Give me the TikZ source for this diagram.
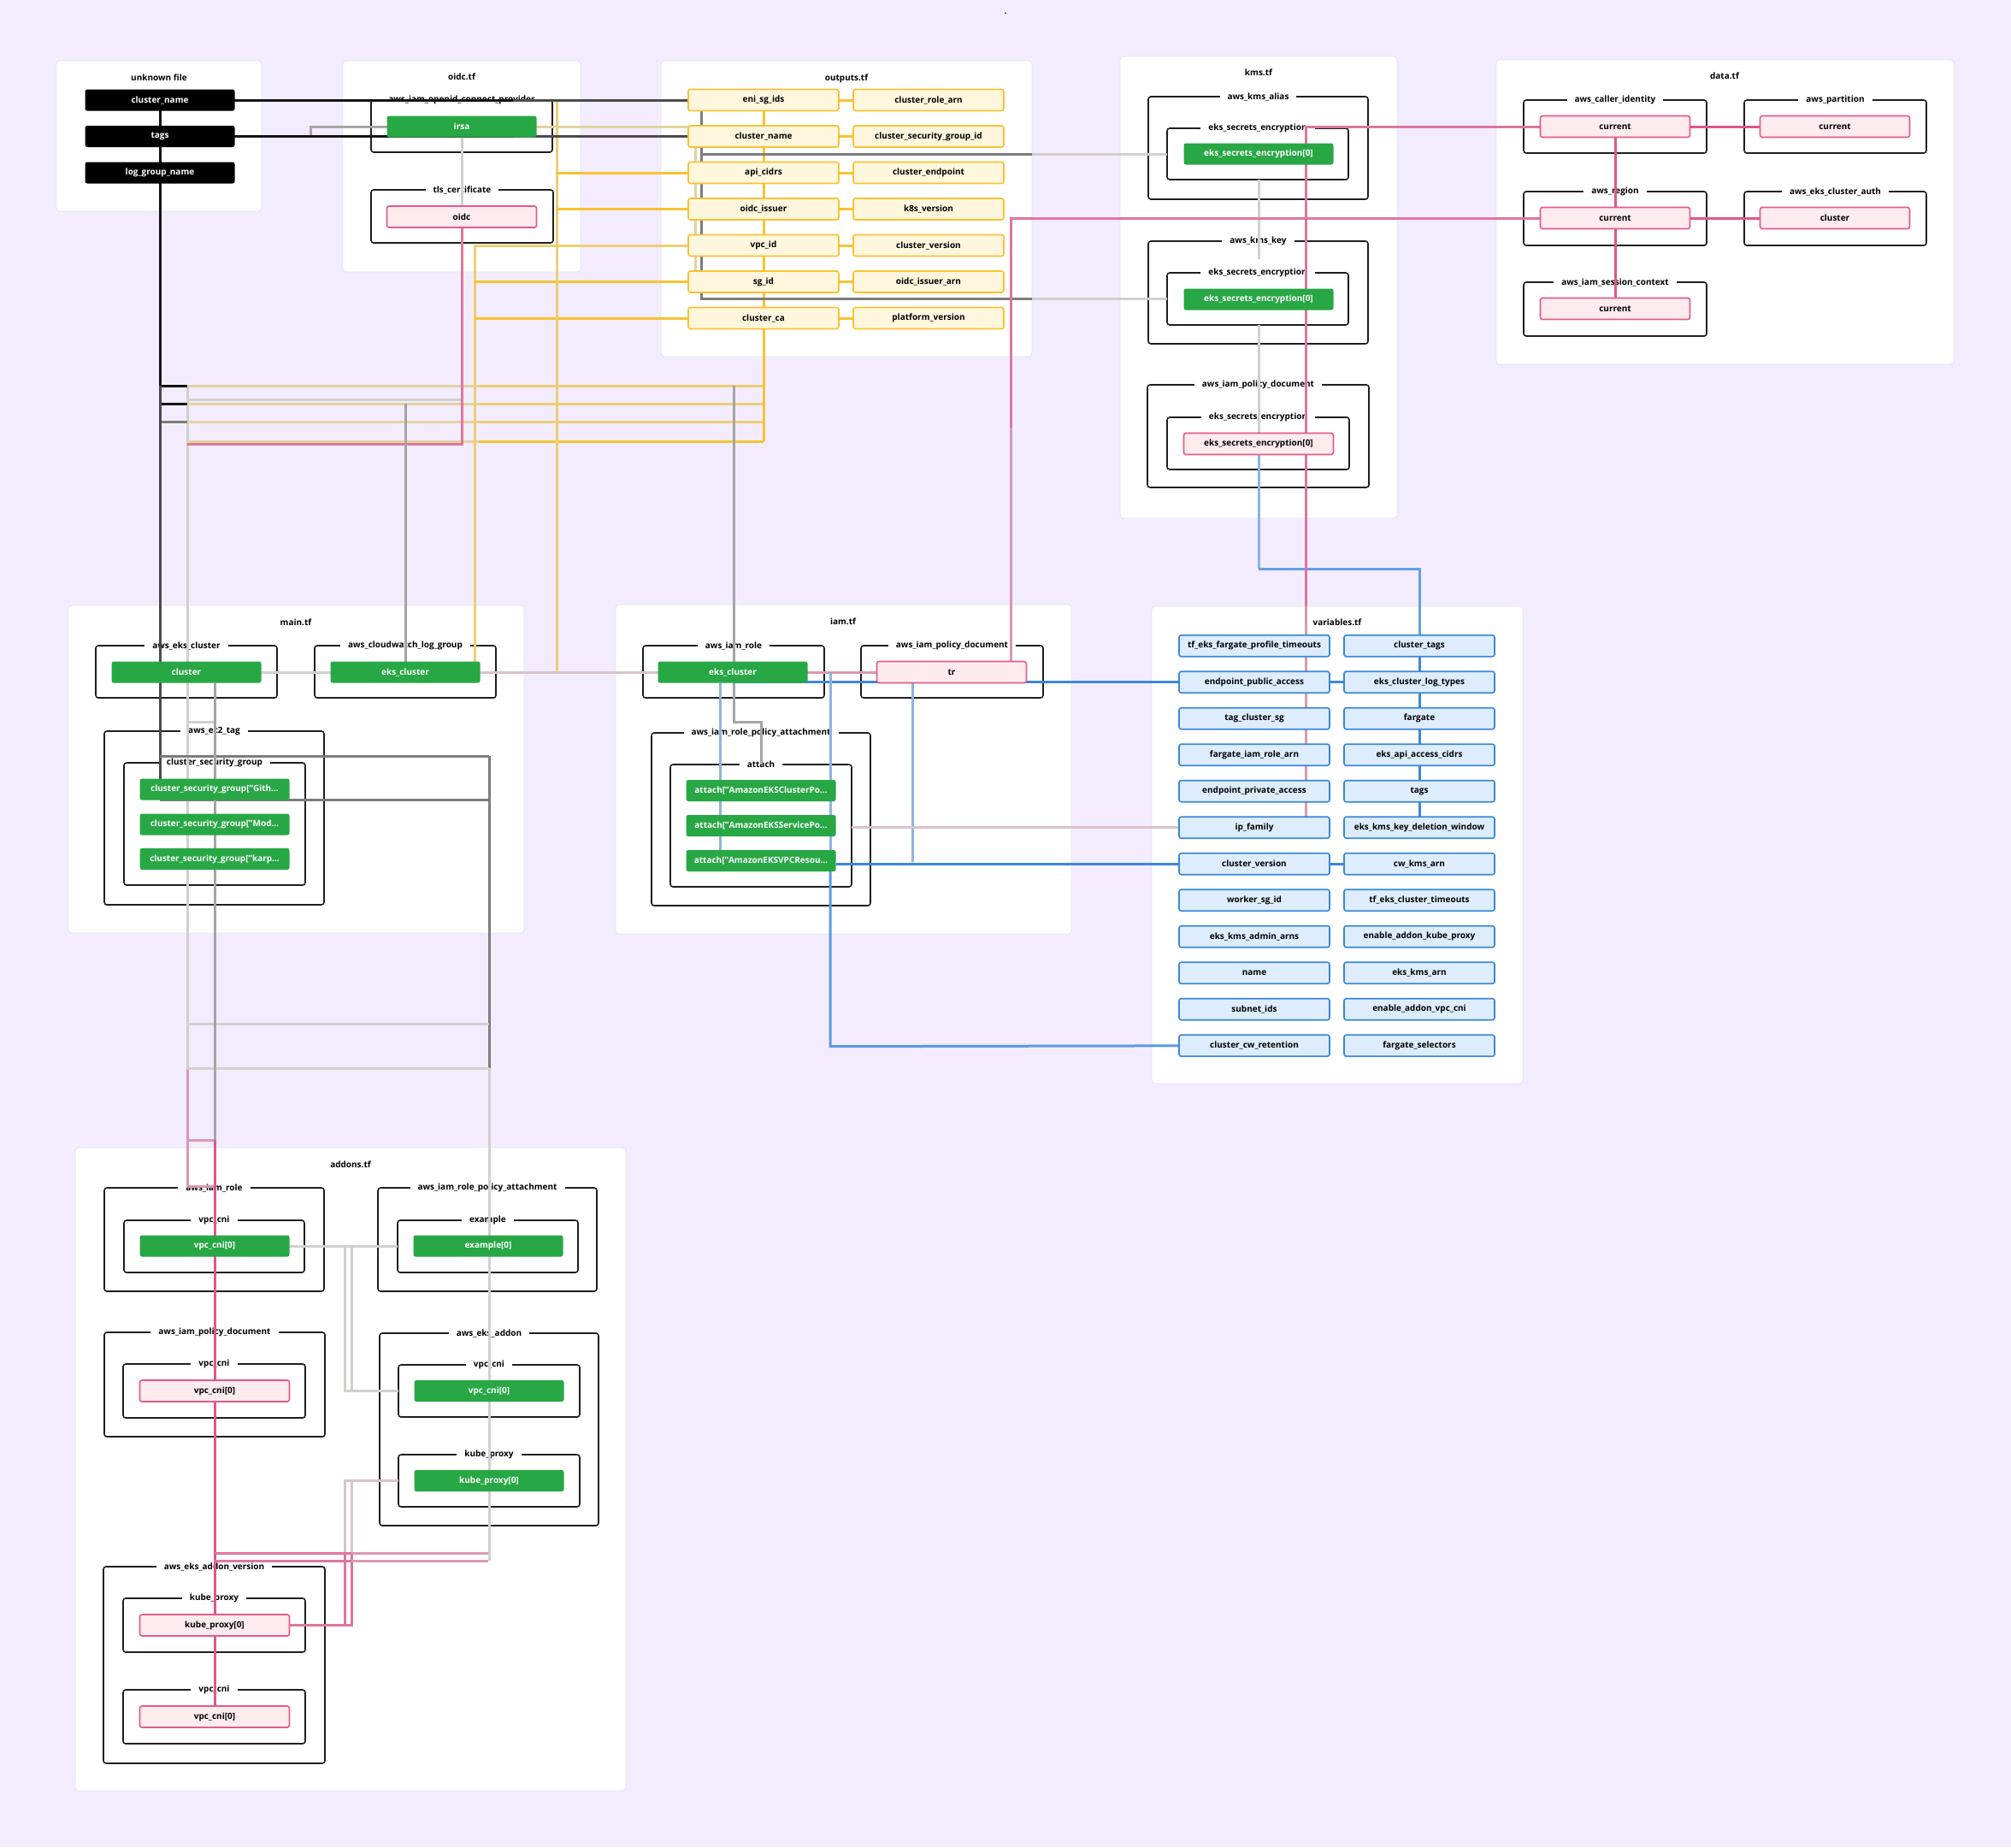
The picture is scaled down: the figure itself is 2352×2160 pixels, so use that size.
\documentclass[tikz,border=0pt]{standalone}
\usepackage{fontspec}
\setmainfont{Open Sans}
\definecolor{bg}{RGB}{242,236,254}
\definecolor{panelln}{RGB}{230,226,240}
\definecolor{grpln}{RGB}{30,30,30}
\definecolor{gfill}{RGB}{40,167,69}
\definecolor{pfill}{RGB}{253,235,237}
\definecolor{pline}{RGB}{226,90,140}
\definecolor{yfill}{RGB}{255,246,222}
\definecolor{yline}{RGB}{248,194,48}
\definecolor{bfill}{RGB}{222,237,253}
\definecolor{bline}{RGB}{58,135,216}
\definecolor{cBk}{RGB}{20,20,20}
\definecolor{cDk}{RGB}{75,75,75}
\definecolor{cMg}{RGB}{125,125,125}
\definecolor{cGy}{RGB}{165,165,165}
\definecolor{cLg}{RGB}{210,208,205}
\definecolor{cBe}{RGB}{226,210,160}
\definecolor{cYe}{RGB}{246,195,50}
\definecolor{cYl}{RGB}{238,206,115}
\definecolor{cPk}{RGB}{221,88,138}
\definecolor{cPm}{RGB}{222,118,158}
\definecolor{cPl}{RGB}{218,152,178}
\definecolor{cPg}{RGB}{216,196,204}
\definecolor{cBl}{RGB}{61,135,217}
\definecolor{cBll}{RGB}{140,180,224}
\newcommand\myfs{\fontsize{10}{12}\selectfont\bfseries}
\newcommand\mygrp[6]{\draw[grpbox] (#2,#3) rectangle (#4,#5);
  \node[glab] (#1) at ({(#2+#4)/2},#3) {#6};}
\begin{document}
\begin{tikzpicture}[x=1pt,y=-1pt,
  nd/.style={rounded corners=2.5pt, minimum width=175pt, minimum height=25pt, inner sep=0pt, font=\myfs, line width=1.6pt},
  blk/.style={nd, fill=black, text=white},
  grn/.style={nd, fill=gfill, text=white},
  pnk/.style={nd, fill=pfill, draw=pline, text=black},
  yel/.style={nd, fill=yfill, draw=yline, text=black},
  blu/.style={nd, fill=bfill, draw=bline, text=black},
  panel/.style={fill=white, draw=panelln, line width=0.8pt, rounded corners=4pt},
  grpbox/.style={draw=grpln, line width=1.6pt, rounded corners=3pt},
  glab/.style={fill=white, inner xsep=9pt, inner ysep=1pt, font=\myfs, text=black},
  ttl/.style={font=\myfs, text=black, inner sep=1pt},
  w/.style={line width=3pt}]
\useasboundingbox (0,0) rectangle (2352,2160);
\fill[bg] (0,0) rectangle (2352,2160);
\node[font=\myfs] (dot) at (1176,16) {.};

% ---------- panels ----------
\draw[panel] (66,71) rectangle (306,247);   \node[ttl] (tunk) at (186,91) {unknown file};
\draw[panel] (401,71) rectangle (679,318);  \node[ttl] (toidc) at (540,90) {oidc.tf};
\draw[panel] (773,71) rectangle (1207,417); \node[ttl] (tout) at (990,92) {outputs.tf};
\draw[panel] (1310,66) rectangle (1634,606); \node[ttl] (tkms) at (1472,85) {kms.tf};
\draw[panel] (1750,70) rectangle (2285,426); \node[ttl] (tdata) at (2017,89) {data.tf};
\draw[panel] (80,708) rectangle (613,1091); \node[ttl] (tmain) at (346,728) {main.tf};
\draw[panel] (720,707) rectangle (1253,1092); \node[ttl] (tiam) at (986,727) {iam.tf};
\draw[panel] (1347,709) rectangle (1781,1267); \node[ttl] (tvar) at (1564,728) {variables.tf};
\draw[panel] (88,1342) rectangle (732,2094); \node[ttl] (tadd) at (410,1362) {addons.tf};

% ---------- groups ----------
\mygrp{g1}{434}{117}{646}{178}{aws\_iam\_openid\_connect\_provider}
\mygrp{g2}{434}{222}{647}{284}{tls\_certificate}
\mygrp{g3}{1343}{113}{1600}{233}{aws\_kms\_alias}
\mygrp{g4}{1365}{150}{1577}{210}{eks\_secrets\_encryption}
\mygrp{g5}{1343}{282}{1600}{402}{aws\_kms\_key}
\mygrp{g6}{1365}{319}{1577}{380}{eks\_secrets\_encryption}
\mygrp{g7}{1342}{450}{1601}{570}{aws\_iam\_policy\_document}
\mygrp{g8}{1365}{488}{1578}{549}{eks\_secrets\_encryption}
\mygrp{g9}{1782}{117}{1996}{179}{aws\_caller\_identity}
\mygrp{g10}{2040}{117}{2253}{179}{aws\_partition}
\mygrp{g11}{1782}{224}{1996}{287}{aws\_region}
\mygrp{g12}{2040}{224}{2253}{287}{aws\_eks\_cluster\_auth}
\mygrp{g13}{1782}{330}{1996}{393}{aws\_iam\_session\_context}
\mygrp{g14}{112}{755}{324}{816}{aws\_eks\_cluster}
\mygrp{g15}{368}{755}{580}{816}{aws\_cloudwatch\_log\_group}
\mygrp{g16}{122}{855}{379}{1058}{aws\_ec2\_tag}
\mygrp{g17}{145}{892}{357}{1035}{cluster\_security\_group}
\mygrp{g18}{752}{755}{964}{816}{aws\_iam\_role}
\mygrp{g19}{1007}{755}{1220}{816}{aws\_iam\_policy\_document}
\mygrp{g20}{762}{857}{1018}{1059}{aws\_iam\_role\_policy\_attachment}
\mygrp{g21}{784}{894}{996}{1037}{attach}
\mygrp{g22}{122}{1389}{379}{1510}{aws\_iam\_role}
\mygrp{g23}{145}{1427}{356}{1488}{vpc\_cni}
\mygrp{g24}{442}{1389}{698}{1510}{aws\_iam\_role\_policy\_attachment}
\mygrp{g25}{465}{1427}{676}{1488}{example}
\mygrp{g26}{122}{1558}{380}{1680}{aws\_iam\_policy\_document}
\mygrp{g27}{144}{1595}{357}{1658}{vpc\_cni}
\mygrp{g28}{444}{1559}{700}{1784}{aws\_eks\_addon}
\mygrp{g29}{466}{1596}{678}{1657}{vpc\_cni}
\mygrp{g30}{466}{1701}{678}{1762}{kube\_proxy}
\mygrp{g31}{121}{1832}{380}{2062}{aws\_eks\_addon\_version}
\mygrp{g32}{144}{1869}{357}{1932}{kube\_proxy}
\mygrp{g33}{144}{1976}{357}{2039}{vpc\_cni}

% ---------- node coordinates (placed first as coordinates for wires) ----------
\coordinate (uf1) at (187,117); \coordinate (uf2) at (187,159.5); \coordinate (uf3) at (187,202);
\coordinate (irsa) at (540,148); \coordinate (oidc) at (540,253.5);
\foreach \i in {1,...,7}{\coordinate (o\i) at (893,{117+42.5*(\i-1)}); \coordinate (p\i) at (1086,{117+42.5*(\i-1)});}
\coordinate (k1) at (1472,180); \coordinate (k2) at (1472,350); \coordinate (k3) at (1472,519);
\coordinate (d1) at (1889,148); \coordinate (d2) at (2146,148); \coordinate (d3) at (1889,255);
\coordinate (d4) at (2146,255); \coordinate (d5) at (1889,361);
\coordinate (mc) at (218,786); \coordinate (mcw) at (474,786);
\coordinate (ie) at (857,786); \coordinate (tr) at (1113,786);
\foreach \i in {1,...,12}{\coordinate (v\i) at (1467,{755.2+42.5*(\i-1)}); \coordinate (r\i) at (1660,{755.2+42.5*(\i-1)});}

% ---------- wires ----------
% light gray trunk x=219
\draw[w,cLg] (219,451) -- (219,1250);
\draw[w,cPl] (219,1250) -- (219,1387) -- (251,1387);
\draw[w,cPl] (219,1333) -- (251,1333);
\draw[w,cLg] (219,844) -- (251,844);
\draw[w,cLg] (219,467) -- (540,467);
% horizontals into outputs trunk
\draw[w,cBe] (219,451) -- (560,451); \draw[w,cYl] (560,451) -- (893,451);
\draw[w,cBe] (219,472) -- (560,472); \draw[w,cYl] (560,472) -- (893,472);
\draw[w,cBe] (219,493) -- (560,493); \draw[w,cYl] (560,493) -- (893,493);
\draw[w,cBe] (219,516) -- (560,516); \draw[w,cYe] (560,516) -- (893,516);
\draw[w,cBk] (187,451) -- (219,451);
\draw[w,cBk] (187,472) -- (219,472);
\draw[w,cMg] (187,493) -- (219,493);
% oidc pink
\draw[w,cPm] (540,266) -- (540,519) -- (219,519);
% gray x=858 to attach
\draw[w,cGy] (858,451) -- (858,844) -- (890,844) -- (890,894);
% gray to cloudwatch
\draw[w,cGy] (474,472) -- (474,773.5);
% yellow x=555 and x=651
\draw[w,cYl] (805,287) -- (555,287) -- (555,773.5);
\draw[w,cYe] (805,329.5) -- (555,329.5);
\draw[w,cYe] (805,372) -- (555,372);
\draw[w,cYl] (651,117) -- (651,786);
\draw[w,cYe] (805,202) -- (651,202);
\draw[w,cYe] (805,244.5) -- (651,244.5);
% outputs internal
\foreach \i/\j in {1/2,2/3,3/4,4/5,5/6,6/7}{\draw[w,cYe] (o\i) -- (o\j);}
\foreach \i in {1,...,7}{\draw[w,cYe] (o\i) -- (p\i);}
\draw[w,cYe] (o7) -- (893,516);
% main row
\draw[w,cLg] (mc) -- (mcw);
\draw[w,cPg] (mcw) -- (ie);
\draw[w,cPl] (ie) -- (tr);
% unknown file wires
\draw[w,cGy] (uf2) -- (363,159.5) -- (363,148) -- (irsa);
\draw[w,cBe] (irsa) -- (813,148) -- (813,317);
\draw[w,cLg] (irsa) -- (oidc);
\draw[w,cBk] (uf1) -- (600,117); \draw[w,cDk] (600,117) -- (805,117);
\draw[w,cBk] (uf2) -- (600,159.5); \draw[w,cDk] (600,159.5) -- (805,159.5);
\draw[w,cBk] (uf1) -- (uf2) -- (uf3) -- (187,451);
\draw[w,cDk] (187,451) -- (187,935);
\draw[w,cMg] (187,884) -- (572,884);
\draw[w,cMg] (187,935) -- (572,935);
\draw[w,cMg] (572,884) -- (572,1249);
\draw[w,cLg] (572,1249) -- (572,1825);
\draw[w,cLg] (219,1197) -- (572,1197);
\draw[w,cLg] (219,1249) -- (572,1249);
% x=251 trunk
\draw[w,cGy] (251,798.5) -- (251,1333);
\draw[w,cPk] (251,1333) -- (251,1995);
% addons
\draw[w,cLg] (338,1457) -- (465,1457);
\draw[w,cLg] (403,1457) -- (403,1626) -- (466,1626);
\draw[w,cLg] (411,1457) -- (411,1626);
\draw[w,cPg] (466,1731) -- (403,1731) -- (403,1816);
\draw[w,cPg] (411,1731) -- (411,1816);
\draw[w,cPm] (403,1816) -- (403,1900);
\draw[w,cPm] (411,1816) -- (411,1900) -- (339,1900);
\draw[w,cPm] (251,1816) -- (411,1816); \draw[w,cPl] (411,1816) -- (571,1816);
\draw[w,cPm] (251,1825) -- (411,1825); \draw[w,cPl] (411,1825) -- (571,1825);
% outputs -> kms grays
\draw[w,cMg] (820,129.5) -- (820,349.5) -- (1207,349.5);
\draw[w,cMg] (820,180) -- (1207,180);
\draw[w,cLg] (1207,349.5) -- (1365,349.5);
\draw[w,cLg] (1207,180) -- (1365,180);
% kms
\draw[w,cLg] (1472,210) -- (1472,303);
\draw[w,cLg] (1472,380) -- (1472,506.5);
\draw[w,cBll] (1472,531.5) -- (1472,665);
\draw[w,cBl!80] (1472,665) -- (1660,665) -- (r1);
% pink from data
\draw[w,cPm] (d1) -- (1527,148) -- (1527,709);
\draw[w,cPl] (1527,709) -- (1527,955.2);
\draw[w,cPm] (d3) -- (1182,255) -- (1182,500);
\draw[w,cPl] (1182,500) -- (1182,773.5);
\draw[w,cPk] (d1) -- (d2); \draw[w,cPk] (d1) -- (d3);
\draw[w,cPk] (d3) -- (d4); \draw[w,cPk] (d3) -- (d5);
% blue
\foreach \i/\j in {1/2,2/3,3/4,4/5,5/6}{\draw[w,cBl] (r\i) -- (r\j);}
\draw[w,cBl] (v2) -- (r2);
\draw[w,cBl] (v7) -- (r7);
\draw[w,cBl] (v2) -- (v2 -| ie);
\draw[w,cBll] (842,798.5) -- (842,993.5);
\draw[w,cBll] (971,786) -- (971,1000);
\draw[w,cBl!85] (971,1000) -- (971,1223.7) -- (v12);
\draw[w,cBll] (1067,798.5) -- (1067,1007.7);
\draw[w,cBl] (v7) -- (v7 -| 978,0);
\draw[w,cPg] (v6) -- (996,967.7);

% ---------- nodes ----------
\node[blk] (n_uf1) at (uf1) {cluster\_name};
\node[blk] (n_uf2) at (uf2) {tags};
\node[blk] (n_uf3) at (uf3) {log\_group\_name};
\node[grn] (n_irsa) at (irsa) {irsa};
\node[pnk] (n_oidc) at (oidc) {oidc};
\foreach \i/\t in {1/eni\_sg\_ids,2/cluster\_name,3/api\_cidrs,4/oidc\_issuer,5/vpc\_id,6/sg\_id,7/cluster\_ca}
  {\node[yel,minimum width=176pt] (n_o\i) at (o\i) {\t};}
\foreach \i/\t in {1/cluster\_role\_arn,2/cluster\_security\_group\_id,3/cluster\_endpoint,4/k8s\_version,5/cluster\_version,6/oidc\_issuer\_arn,7/platform\_version}
  {\node[yel,minimum width=176pt] (n_p\i) at (p\i) {\t};}
\node[grn] (n_k1) at (k1) {eks\_secrets\_encryption[0]};
\node[grn] (n_k2) at (k2) {eks\_secrets\_encryption[0]};
\node[pnk] (n_k3) at (k3) {eks\_secrets\_encryption[0]};
\node[pnk] (n_d1) at (d1) {current};
\node[pnk] (n_d2) at (d2) {current};
\node[pnk] (n_d3) at (d3) {current};
\node[pnk] (n_d4) at (d4) {cluster};
\node[pnk] (n_d5) at (d5) {current};
\node[grn] (n_mc) at (mc) {cluster};
\node[grn] (n_mcw) at (mcw) {eks\_cluster};
\node[grn] (n_m1) at (251,923) {cluster\_security\_group["Gith…};
\node[grn] (n_m2) at (251,964) {cluster\_security\_group["Mod…};
\node[grn] (n_m3) at (251,1004.5) {cluster\_security\_group["karp…};
\node[grn] (n_ie) at (ie) {eks\_cluster};
\node[pnk] (n_tr) at (tr) {tr};
\node[grn] (n_a1) at (890,924.5) {attach["AmazonEKSClusterPo…};
\node[grn] (n_a2) at (890,965.5) {attach["AmazonEKSServicePo…};
\node[grn] (n_a3) at (890,1006.5) {attach["AmazonEKSVPCResou…};
\foreach \i/\t in {1/tf\_eks\_fargate\_profile\_timeouts,2/endpoint\_public\_access,3/tag\_cluster\_sg,4/fargate\_iam\_role\_arn,5/endpoint\_private\_access,6/ip\_family,7/cluster\_version,8/worker\_sg\_id,9/eks\_kms\_admin\_arns,10/name,11/subnet\_ids,12/cluster\_cw\_retention}
  {\node[blu,minimum width=176pt] (n_v\i) at (v\i) {\t};}
\foreach \i/\t in {1/cluster\_tags,2/eks\_cluster\_log\_types,3/fargate,4/eks\_api\_access\_cidrs,5/tags,6/eks\_kms\_key\_deletion\_window,7/cw\_kms\_arn,8/tf\_eks\_cluster\_timeouts,9/enable\_addon\_kube\_proxy,10/eks\_kms\_arn,11/enable\_addon\_vpc\_cni,12/fargate\_selectors}
  {\node[blu,minimum width=176pt] (n_r\i) at (r\i) {\t};}
\node[grn] (n_ad1) at (251,1457) {vpc\_cni[0]};
\node[grn] (n_ad2) at (571,1457) {example[0]};
\node[pnk] (n_ad3) at (251,1626.5) {vpc\_cni[0]};
\node[grn] (n_ad4) at (572,1626.5) {vpc\_cni[0]};
\node[grn] (n_ad5) at (572,1731.5) {kube\_proxy[0]};
\node[pnk] (n_ad6) at (251,1900.5) {kube\_proxy[0]};
\node[pnk] (n_ad7) at (251,2007.5) {vpc\_cni[0]};
\end{tikzpicture}
\end{document}
